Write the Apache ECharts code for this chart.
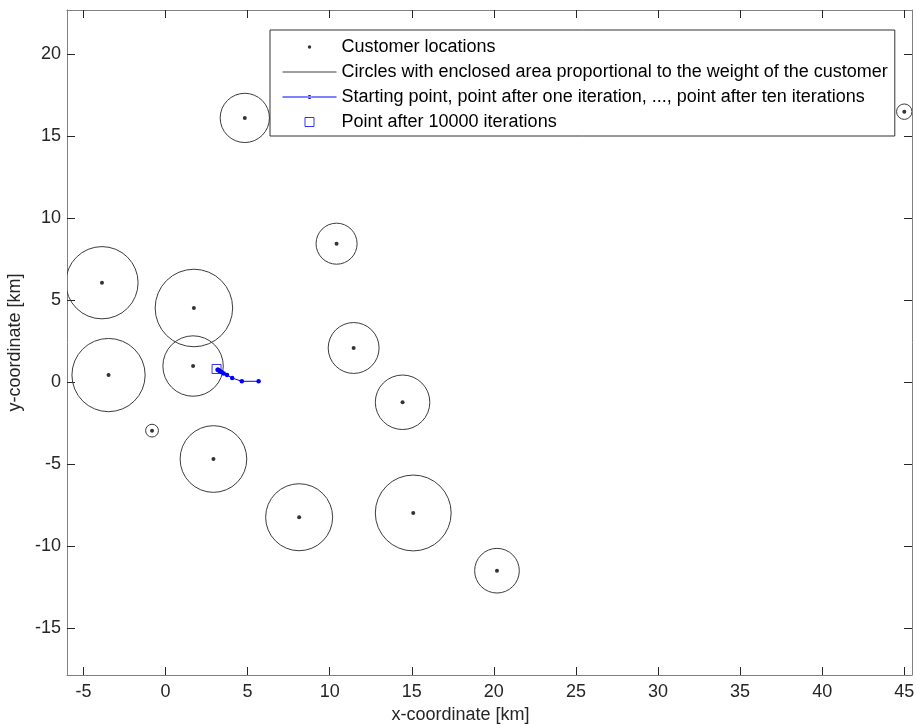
<!DOCTYPE html>
<html>
<head>
<meta charset="utf-8">
<title>Weiszfeld iterations</title>
<script src="https://cdn.jsdelivr.net/npm/echarts@6/dist/echarts.min.js"></script>
<style>
  html, body { margin: 0; padding: 0; background: #ffffff; }
  #chart { width: 917px; height: 725px; }
</style>
</head>
<body>
<div id="chart"></div>
<script>
// Customer locations [km] and circle radii (enclosed area proportional to weight)
const customerX = [4.83, 45.0, 10.42, -3.87, 1.73, -3.47, 1.68, 11.46, 14.44, -0.82, 2.92, 8.14, 15.09, 20.19];
const customerY = [16.12, 16.5, 8.45, 6.07, 4.53, 0.44, 0.99, 2.09, -1.22, -2.95, -4.68, -8.23, -7.97, -11.49];
const circleRadius = [1.5, 0.47, 1.25, 2.2, 2.36, 2.23, 1.84, 1.55, 1.66, 0.39, 2.03, 2.04, 2.31, 1.36];

// Starting point and the points after iterations 1..10
const iterX = [5.67, 4.65, 4.06, 3.75, 3.55, 3.43, 3.34, 3.28, 3.24, 3.20, 3.17];
const iterY = [0.06, 0.06, 0.26, 0.44, 0.54, 0.61, 0.66, 0.70, 0.73, 0.76, 0.77];

// Point after 10000 iterations
const finalX = [3.11];
const finalY = [0.81];

// Tick positions
const xTicks = [-5, 0, 5, 10, 15, 20, 25, 30, 35, 40, 45];
const yTicks = [-15, -10, -5, 0, 5, 10, 15, 20];

const seriesNames = [
  'Customer locations',
  'Circles with enclosed area proportional to the weight of the customer',
  'Starting point, point after one iteration, ..., point after ten iterations',
  'Point after 10000 iterations'
];

const FONT = "'Liberation Sans', Arial, Helvetica, sans-serif";
const AXIS_COLOR = '#808080';
const TEXT_COLOR = '#262626';
const BLUE = '#0000ff';

const circleData = customerX.map((x, i) => [x, customerY[i], circleRadius[i]]);
const customerData = customerX.map((x, i) => [x, customerY[i]]);
const iterData = iterX.map((x, i) => [x, iterY[i]]);
const finalData = finalX.map((x, i) => [x, finalY[i]]);

function frameAxis(extra) {
  return Object.assign({
    type: 'value',
    axisLine: { show: true, onZero: false, lineStyle: { color: AXIS_COLOR, width: 1 } },
    splitLine: { show: false },
    axisLabel: { show: false }
  }, extra);
}

// Equal aspect ratio: 845 px / 51.47 km horizontally, 665 px / 40.55 km vertically
const X_MIN = -6, X_MAX = 45.47;
const Y_MIN = -17.85, Y_MAX = 22.7;

const option = {
  animation: false,
  backgroundColor: '#ffffff',
  grid: { left: 67, right: 5, top: 10, bottom: 50, containLabel: false, outerBoundsMode: 'none' },
  xAxis: [
    frameAxis({
      position: 'bottom', min: X_MIN, max: X_MAX,
      axisTick: { show: true, inside: true, length: 8, customValues: xTicks, lineStyle: { color: TEXT_COLOR } },
      axisLabel: { show: true, customValues: xTicks, color: TEXT_COLOR, fontSize: 18, fontFamily: FONT, margin: 8 },
      name: 'x-coordinate [km]', nameLocation: 'middle', nameGap: 29,
      nameTextStyle: { color: TEXT_COLOR, fontSize: 18, fontFamily: FONT, padding: [0, 58, 0, 0] }
    }),
    frameAxis({
      position: 'top', min: X_MIN, max: X_MAX,
      axisTick: { show: true, inside: true, length: 8, customValues: xTicks, lineStyle: { color: TEXT_COLOR } }
    })
  ],
  yAxis: [
    frameAxis({
      position: 'left', min: Y_MIN, max: Y_MAX,
      axisTick: { show: true, inside: true, length: 8, customValues: yTicks, lineStyle: { color: TEXT_COLOR } },
      axisLabel: { show: true, customValues: yTicks, color: TEXT_COLOR, fontSize: 18, fontFamily: FONT, margin: 6 },
      name: 'y-coordinate [km]', nameLocation: 'middle', nameGap: 40, nameRotate: 90,
      nameTextStyle: { color: TEXT_COLOR, fontSize: 18, fontFamily: FONT }
    }),
    frameAxis({
      position: 'right', min: Y_MIN, max: Y_MAX,
      axisTick: { show: true, inside: true, length: 8, customValues: yTicks, lineStyle: { color: TEXT_COLOR } }
    })
  ],
  legend: {
    orient: 'vertical',
    left: 270, top: 30,
    itemWidth: 54, itemHeight: 12, itemGap: 7,
    padding: [8, 7, 5, 12],
    backgroundColor: '#ffffff',
    borderColor: '#333333', borderWidth: 1, borderRadius: 0,
    selectedMode: false,
    textStyle: { color: '#000000', fontSize: 18, fontFamily: FONT },
    data: [
      {
        name: seriesNames[0],
        icon: 'path://M0 0M54 12M25.3 6a1.7 1.7 0 1 0 3.4 0a1.7 1.7 0 1 0 -3.4 0z',
        itemStyle: { color: '#000000', borderWidth: 0 }
      },
      {
        name: seriesNames[1],
        icon: 'path://M0 0M54 12M0 5.5h54v1h-54z',
        itemStyle: { color: '#404040', borderWidth: 0 }
      },
      {
        name: seriesNames[2],
        icon: 'path://M0 0M54 12M0 5.5h54v1h-54zM25 6a2 2 0 1 0 4 0a2 2 0 1 0 -4 0z',
        itemStyle: { color: BLUE, borderWidth: 0 }
      },
      {
        name: seriesNames[3],
        icon: 'path://M0 0M54 12M22.5 1.5h9v9h-9z',
        itemStyle: { color: 'rgba(0,0,0,0)', borderColor: BLUE, borderWidth: 1 }
      }
    ]
  },
  series: [
    {
      name: seriesNames[1],
      type: 'custom',
      coordinateSystem: 'cartesian2d',
      xAxisIndex: 0, yAxisIndex: 0,
      clip: true,
      silent: true,
      itemStyle: { color: '#404040' },
      data: circleData,
      renderItem: function (params, api) {
        const c = api.coord([api.value(0), api.value(1)]);
        const r = api.size([api.value(2), 0])[0];
        return {
          type: 'circle',
          shape: { cx: c[0], cy: c[1], r: r },
          style: { fill: 'none', stroke: '#3c3c3c', lineWidth: 1 }
        };
      },
      z: 2
    },
    {
      name: seriesNames[0],
      type: 'scatter',
      symbol: 'circle',
      symbolSize: 4,
      silent: true,
      itemStyle: { color: '#000000' },
      data: customerData,
      z: 3
    },
    {
      name: seriesNames[2],
      type: 'line',
      symbol: 'circle',
      symbolSize: 4.5,
      showAllSymbol: true,
      silent: true,
      lineStyle: { color: BLUE, width: 1 },
      itemStyle: { color: BLUE, borderWidth: 0 },
      data: iterData,
      z: 4
    },
    {
      name: seriesNames[3],
      type: 'scatter',
      symbol: 'rect',
      symbolSize: 9,
      silent: true,
      itemStyle: { color: 'rgba(0,0,0,0)', borderColor: BLUE, borderWidth: 1 },
      data: finalData,
      z: 5
    }
  ]
};

const chart = echarts.init(document.getElementById('chart'), null, { renderer: 'canvas' });
chart.setOption(option);
</script>
</body>
</html>
